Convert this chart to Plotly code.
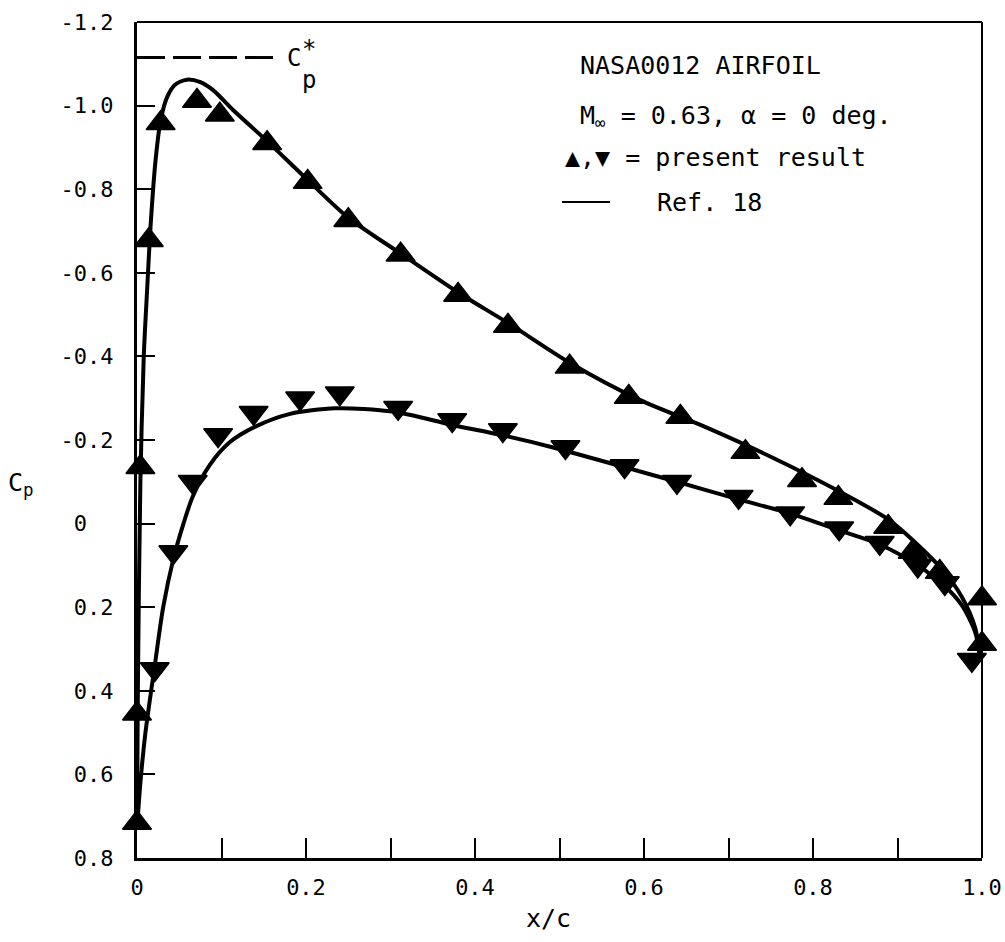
import plotly.graph_objects as go

# ---- data ----
# present result, upper surface (up triangles)
upper_x = [0.0, 0.0, 0.004, 0.014, 0.028, 0.071, 0.098, 0.154, 0.202, 0.250, 0.312,
           0.380, 0.439, 0.512, 0.582, 0.643, 0.720, 0.787, 0.830, 0.889, 0.918,
           0.950, 1.0, 1.0]
upper_cp = [0.716, 0.455, -0.135, -0.678, -0.958, -1.011, -0.978, -0.910, -0.817, -0.726,
            -0.643, -0.547, -0.473, -0.375, -0.303, -0.255, -0.171, -0.104, -0.061,
            0.008, 0.068, 0.116, 0.179, 0.288]

# present result, lower surface (down triangles)
lower_x = [0.021, 0.043, 0.066, 0.096, 0.138, 0.193, 0.240, 0.309, 0.373, 0.433, 0.507,
           0.577, 0.639, 0.712, 0.773, 0.831, 0.879, 0.924, 0.956, 0.988]
lower_cp = [0.348, 0.068, -0.100, -0.212, -0.265, -0.300, -0.312, -0.277, -0.248, -0.224,
            -0.183, -0.138, -0.100, -0.064, -0.025, 0.011, 0.046, 0.100, 0.142, 0.326]

# Ref. 18 curves
ref_up_x = [0.0, 0.001, 0.004, 0.008, 0.012, 0.016, 0.022, 0.028, 0.036, 0.045, 0.059,
            0.075, 0.090, 0.114, 0.154, 0.202, 0.250, 0.312, 0.380, 0.439, 0.512, 0.595,
            0.675, 0.753, 0.832, 0.889, 0.921, 0.953, 0.976, 0.992, 0.998]
ref_up_cp = [0.73, 0.40, -0.10, -0.40, -0.56, -0.71, -0.87, -0.965, -1.022, -1.050, -1.062,
             -1.056, -1.037, -0.989, -0.915, -0.822, -0.732, -0.646, -0.553, -0.480,
             -0.385, -0.296, -0.229, -0.157, -0.076, -0.010, 0.045, 0.110, 0.175, 0.250,
             0.326]

ref_lo_x = [0.0, 0.004, 0.010, 0.021, 0.031, 0.043, 0.055, 0.066, 0.086, 0.110, 0.140,
            0.180, 0.235, 0.303, 0.373, 0.433, 0.489, 0.577, 0.639, 0.712, 0.773, 0.831,
            0.879, 0.924, 0.956, 0.976, 0.992, 0.998]
ref_lo_cp = [0.73, 0.62, 0.50, 0.34, 0.20, 0.085, 0.00, -0.065, -0.140, -0.195, -0.232,
             -0.262, -0.276, -0.268, -0.236, -0.211, -0.184, -0.135, -0.100, -0.058, -0.024,
             0.016, 0.050, 0.100, 0.150, 0.195, 0.260, 0.326]

cp_star = -1.115
cp_star_x = [0.0, 0.161]

x_tickvals = [0, 0.2, 0.4, 0.6, 0.8, 1.0]
x_ticktext = ["0", "0.2", "0.4", "0.6", "0.8", "1.0"]
y_tickvals = [-1.2, -1.0, -0.8, -0.6, -0.4, -0.2, 0, 0.2, 0.4, 0.6, 0.8]
y_ticktext = ["-1.2", "-1.0", "-0.8", "-0.6", "-0.4", "-0.2", "0\u00a0\u00a0", "0.2",
              "0.4", "0.6", "0.8"]

FONT = "DejaVu Sans Mono"
W, H = 1005, 942
L, R, T, B = 137, 23, 22, 84


def pxx(px):
    return (px - L) / (W - L - R)


def pxy(py):
    return (H - B - py) / (H - T - B)


fig = go.Figure()
fig.add_trace(go.Scatter(x=ref_up_x, y=ref_up_cp, mode="lines",
                         line=dict(color="black", width=4, shape="spline", smoothing=0.8),
                         showlegend=False))
fig.add_trace(go.Scatter(x=ref_lo_x, y=ref_lo_cp, mode="lines",
                         line=dict(color="black", width=4, shape="spline", smoothing=0.8),
                         showlegend=False))
fig.add_trace(go.Scatter(x=upper_x, y=upper_cp, mode="markers",
                         marker=dict(symbol="triangle-up", size=25, color="black",
                                     line=dict(color="black", width=1.5)),
                         showlegend=False, cliponaxis=False))
fig.add_trace(go.Scatter(x=lower_x, y=lower_cp, mode="markers",
                         marker=dict(symbol="triangle-down", size=25, color="black",
                                     line=dict(color="black", width=1.5)),
                         showlegend=False, cliponaxis=False))
fig.add_trace(go.Scatter(x=cp_star_x, y=[cp_star, cp_star], mode="lines",
                         line=dict(color="black", width=3, dash="28px,8px"),
                         showlegend=False))

shapes = [
    dict(type="line", xref="paper", yref="paper", x0=0, x1=1, y0=1, y1=1,
         line=dict(color="black", width=2)),
    dict(type="line", xref="paper", yref="paper", x0=1, x1=1, y0=0, y1=1,
         line=dict(color="black", width=2)),
    dict(type="line", xref="paper", yref="paper", x0=pxx(562), x1=pxx(610),
         y0=pxy(202), y1=pxy(202), line=dict(color="black", width=2)),
]

ann = []


def text(s, x, y, size=25, xanchor="left"):
    ann.append(dict(text=s, x=pxx(x), y=pxy(y), xref="paper", yref="paper",
                    xanchor=xanchor, yanchor="middle", showarrow=False,
                    font=dict(family=FONT, size=size, color="black")))


text("NASA0012 AIRFOIL", 578, 65)
text("M<sub>\u221e</sub> = 0.63, \u03b1 = 0 deg.", 578, 117)
text("\u25b2,\u25bc = present result", 563, 157)
text("Ref. 18", 655, 202)
text("C", 285, 58, size=24)
text("*", 300, 49, size=24)
text("p", 300, 80, size=24)
text("x/c", 548, 918, xanchor="center")
text("C<sub>p</sub>", 6, 484)

fig.update_layout(
    width=W, height=H,
    margin=dict(l=L, r=R, t=T, b=B, pad=0, autoexpand=False),
    paper_bgcolor="white", plot_bgcolor="white",
    font=dict(family=FONT, size=22, color="black"),
    shapes=shapes, annotations=ann, showlegend=False,
    xaxis=dict(range=[0, 1], showline=True, linecolor="black", linewidth=3,
               automargin=False,
               ticks="inside", ticklen=20, tickwidth=2, tickcolor="black",
               tickvals=x_tickvals, ticktext=x_ticktext, showgrid=False, zeroline=False,
               tickfont=dict(family=FONT, size=22),
               minor=dict(ticks="inside", dtick=0.1, ticklen=20, tickwidth=2,
                          tickcolor="black", showgrid=False),
               ticklabelstandoff=8),
    yaxis=dict(range=[0.8, -1.2], showline=True, linecolor="black", linewidth=3,
               automargin=False,
               ticks="inside", ticklen=18, tickwidth=2, tickcolor="black",
               tickvals=y_tickvals, ticktext=y_ticktext, showgrid=False, zeroline=False,
               tickfont=dict(family=FONT, size=22), ticklabelstandoff=16),
)

fig.write_html("out.html")
